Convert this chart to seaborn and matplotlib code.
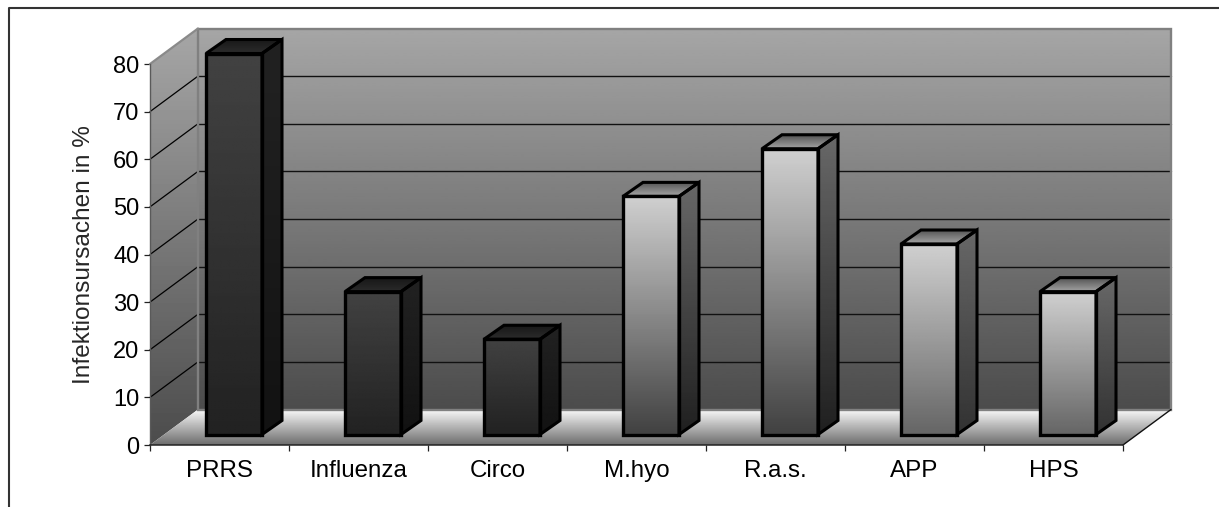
#!/usr/bin/env python3
# coding: utf-8
import matplotlib
matplotlib.use("Agg")
import matplotlib.pyplot as plt
from matplotlib.lines import Line2D
from matplotlib.patches import Polygon
import numpy as np
import pandas as pd
import seaborn as sns

causes = ["PRRS", "Influenza", "Circo", "M.hyo", "R.a.s.", "APP", "HPS"]
percent = [80, 30, 20, 50, 60, 40, 30]
y_ticks = [0, 10, 20, 30, 40, 50, 60, 70, 80]

# grey levels (top, bottom) per bar
front_grey = [(66, 34), (66, 34), (66, 34), (208, 66), (208, 66), (208, 102), (208, 102)]
side_grey = [(34, 18), (34, 18), (34, 18), (104, 32), (104, 32), (104, 50), (104, 50)]
lid_grey = [(24, 44), (24, 44), (24, 44), (85, 165), (85, 165), (85, 165), (85, 165)]

W, H = 1219, 507
CAT_PX = 139.0
UNIT_PX = 381 / 80

sns.set_style("white")
plt.rcParams["font.family"] = ["Liberation Sans", "DejaVu Sans"]

df = pd.DataFrame({"cause": causes, "percent": percent})

fig = plt.figure(figsize=(W / 100, H / 100), dpi=100, facecolor="white")

# front plane of the chart box
ax = fig.add_axes([150 / W, (H - 445) / H, 973 / W, 381 / H], facecolor="none")
# bars stand a bit behind the front edge of the floor
bar_ax = fig.add_axes([(150 + 14.5) / W, (H - 434.5) / H, 973 / W, 381 / H],
                      facecolor="none", zorder=3)

wall_dx = 48 / CAT_PX
wall_dy = 35.5 / UNIT_PX
bar_dx = 20 / CAT_PX
bar_dy = 14 / UNIT_PX
x0, x1 = -0.5, 6.5


def gradient(axis, verts, top, bottom, z=1):
    """Poly filled with a vertical grey ramp."""
    xs = [v[0] for v in verts]
    ys = [v[1] for v in verts]
    ramp = np.linspace(top, bottom, 128)[:, None]
    im = axis.imshow(ramp, cmap="gray", vmin=0, vmax=255, aspect="auto",
                     extent=[min(xs), max(xs), min(ys), max(ys)],
                     origin="upper", interpolation="bilinear", zorder=z)
    im.set_clip_box(fig.bbox)
    im.set_clip_path(Polygon(verts, transform=axis.transData))


# walls and floor
back = [(x0 + wall_dx, wall_dy), (x1 + wall_dx, wall_dy),
        (x1 + wall_dx, 80 + wall_dy), (x0 + wall_dx, 80 + wall_dy)]
left = [(x0, 0), (x0 + wall_dx, wall_dy), (x0 + wall_dx, 80 + wall_dy), (x0, 80)]
floor = [(x0, 0), (x1, 0), (x1 + wall_dx, wall_dy), (x0 + wall_dx, wall_dy)]
gradient(ax, back, 166, 76)
gradient(ax, left, 166, 76)
gradient(ax, floor, 250, 108)

for v in y_ticks[1:-1]:
    ax.plot([x0, x0 + wall_dx], [v, v + wall_dy], color="black", lw=0.9, clip_on=False, zorder=2)
    ax.plot([x0 + wall_dx, x1 + wall_dx], [v + wall_dy, v + wall_dy], color="#111111", lw=1.0,
            clip_on=False, zorder=2)
ax.add_patch(Polygon(back, closed=True, fill=False, edgecolor="#808080", lw=1.7,
                     clip_on=False, zorder=2))
ax.plot([x0, x0 + wall_dx], [80, 80 + wall_dy], color="#8a8a8a", lw=1.6, clip_on=False, zorder=2)
ax.plot([x1, x1 + wall_dx], [0, wall_dy], color="#111111", lw=1.0, clip_on=False, zorder=2)

ax.set_xlim(x0, x1)
ax.set_ylim(0, 80)
for name in ["top", "right"]:
    ax.spines[name].set_visible(False)
ax.spines["left"].set_color("#5a5a5a")
ax.spines["left"].set_linewidth(1.0)
ax.spines["left"].set_zorder(4)
ax.spines["bottom"].set_color("#222222")
ax.spines["bottom"].set_linewidth(1.1)
ax.spines["bottom"].set_zorder(4)
ax.set_yticks(y_ticks)
ax.set_xticks(range(len(causes)), causes)
ax.set_xticks(np.arange(x0, x1 + 1), minor=True)
ax.tick_params(axis="x", which="major", length=0, pad=11, labelsize=17.4, colors="black")
ax.tick_params(axis="x", which="minor", length=4.6, width=0.9, color="#222222", bottom=True)
ax.tick_params(axis="y", length=4.6, width=0.9, color="#222222", pad=3, labelsize=17,
               left=True, labelcolor="black")
ax.set_ylabel("Infektionsursachen in %", fontsize=17.6, labelpad=13)

# bars
sns.barplot(data=df, x="cause", y="percent", ax=bar_ax, fill=False, color="black",
            width=56 / CAT_PX, linewidth=2.4, errorbar=None, saturation=1)
bar_ax.set_xlim(x0, x1)
bar_ax.set_ylim(0, 80)
bar_ax.set_axis_off()
for name in bar_ax.spines:
    bar_ax.spines[name].set_visible(False)

for i, rect in enumerate(bar_ax.patches):
    rect.set_edgecolor("black")
    rect.set_clip_on(False)
    rect.set_zorder(5)
    a, b = rect.get_x(), rect.get_x() + rect.get_width()
    top = rect.get_height()
    face = [(a, 0), (b, 0), (b, top), (a, top)]
    side = [(b, 0), (b + bar_dx, bar_dy), (b + bar_dx, top + bar_dy), (b, top)]
    lid = [(a, top), (b, top), (b + bar_dx, top + bar_dy), (a + bar_dx, top + bar_dy)]
    gradient(bar_ax, face, *front_grey[i], z=2)
    gradient(bar_ax, side, *side_grey[i], z=2)
    gradient(bar_ax, lid, *lid_grey[i], z=2)
    for poly in (side, lid):
        bar_ax.add_patch(Polygon(poly, closed=True, fill=False, edgecolor="black", lw=2.2,
                                 joinstyle="miter", clip_on=False, zorder=5))
bar_ax.set_xlim(x0, x1)
bar_ax.set_ylim(0, 80)

# outer frame, open at right and bottom
fig.add_artist(Line2D([9 / W, 9 / W, 1], [0, (H - 8) / H, (H - 8) / H], color="#333333", lw=1.5))

fig.savefig("out.png", dpi=100)
